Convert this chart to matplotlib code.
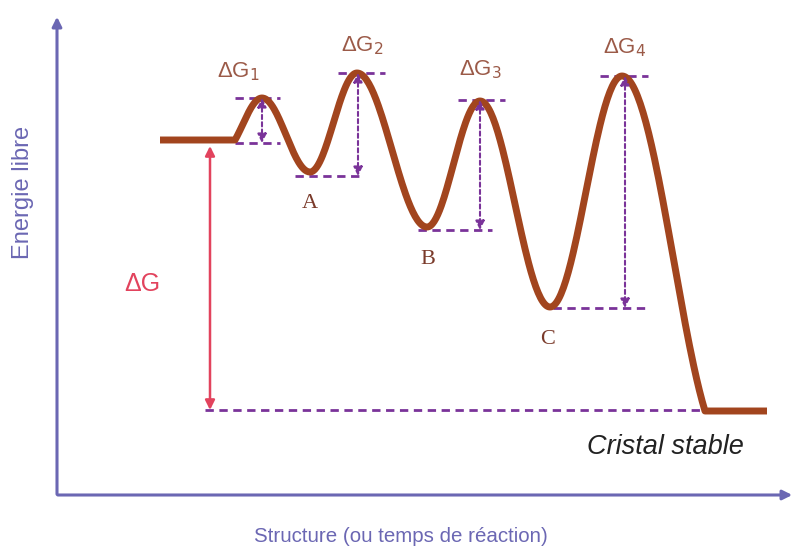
import numpy as np
import matplotlib.pyplot as plt

plt.rcParams['font.family'] = ['Liberation Sans', 'DejaVu Sans']

# energy profile: extrema of the curve (x position, energy level in image units, down = lower)
curve_x = [160, 235, 262, 310, 357, 427, 480, 550, 622, 705, 767]
curve_y = [140, 140, 98, 172, 73, 227, 101, 307, 76, 411, 411]
# how much of a half-cosine each segment uses (1 = full smooth arch)
seg_shape = [0, 0.7, 1, 1, 1, 1, 1, 1, 0.8, 0]

# barriers: x of arrow, top level, bottom level, left/right of dashes
barrier_names = ['ΔG$_1$', 'ΔG$_2$', 'ΔG$_3$', 'ΔG$_4$']
barrier_x = [262, 358, 480, 625]
barrier_top = [98, 73, 100, 76]
barrier_bot = [143, 176, 230, 308]
top_span = [(235, 280), (338, 385), (458, 505), (600, 648)]
bot_span = [(235, 280), (295, 364), (418, 492), (553, 648)]
label_pos = [(238, 72), (362, 46), (480, 70), (625, 48)]

state_names = ['A', 'B', 'C']
state_pos = [(310, 204), (428, 260), (548, 339)]

dg_x = 210
dg_top = 146
dg_bot = 410

axis_col = '#6b67b3'
curve_col = '#a2451e'
dash_col = '#7a3399'
red = '#e2435d'
label_col = '#9b5a48'

fig = plt.figure(figsize=(7.95, 5.51), dpi=100)
ax = fig.add_axes([0, 0, 1, 1])
ax.set_xlim(0, 795)
ax.set_ylim(551, 0)
ax.axis('off')

# curve built segment by segment between extrema
xs, ys = [], []
for i in range(len(curve_x) - 1):
    x0, x1 = curve_x[i], curve_x[i + 1]
    y0, y1 = curve_y[i], curve_y[i + 1]
    t = np.linspace(0, 1, 60)
    f = seg_shape[i]
    if f == 0:
        w = t
    elif i == 1:
        # starts abruptly from the plateau
        a = np.pi * (1 - f)
        w = (np.cos(a) - np.cos(a + np.pi * f * t)) / (np.cos(a) - np.cos(np.pi))
    else:
        w = (1 - np.cos(np.pi * f * t)) / (1 - np.cos(np.pi * f))
    xs.extend(x0 + (x1 - x0) * t)
    ys.extend(y0 + (y1 - y0) * w)
ax.plot(xs, ys, color=curve_col, lw=5, solid_capstyle='butt', zorder=3)

# axes arrows
ax.annotate('', xy=(57, 14), xytext=(57, 497),
            arrowprops=dict(arrowstyle='-|>', color=axis_col, lw=2.2, mutation_scale=14))
ax.annotate('', xy=(795, 495), xytext=(55, 495),
            arrowprops=dict(arrowstyle='-|>', color=axis_col, lw=2.2, mutation_scale=14))
ax.text(23, 192, 'Energie libre', rotation=90, ha='center', va='center',
        color=axis_col, fontsize=17)
ax.text(401, 536, 'Structure (ou temps de réaction)', ha='center', va='center',
        color=axis_col, fontsize=14.8)

# barrier heights
for i in range(len(barrier_x)):
    ax.plot(top_span[i], [barrier_top[i]] * 2, color=dash_col, lw=2, ls=(0, (3, 2)), zorder=2)
    ax.plot(bot_span[i], [barrier_bot[i]] * 2, color=dash_col, lw=2, ls=(0, (3, 2)), zorder=2)
    ax.annotate('', xy=(barrier_x[i], barrier_bot[i]), xytext=(barrier_x[i], barrier_top[i]),
                arrowprops=dict(arrowstyle='<|-|>', color=dash_col, lw=1.5,
                                ls=(0, (2, 1.5)), mutation_scale=13, shrinkA=0, shrinkB=0),
                zorder=4)
    ax.text(label_pos[i][0], label_pos[i][1], barrier_names[i], ha='center', va='center',
            color=label_col, fontsize=16)

for name, (px, py) in zip(state_names, state_pos):
    ax.text(px, py, name, ha='center', va='center', color='#7a3a2a', fontsize=16,
            family='Liberation Serif')

# overall free energy difference
ax.plot([dg_x - 5, 705], [dg_bot, dg_bot], color=dash_col, lw=2, ls=(0, (3, 2)), zorder=2)
ax.annotate('', xy=(dg_x, dg_top), xytext=(dg_x, dg_bot),
            arrowprops=dict(arrowstyle='<|-|>', color=red, lw=1.8, mutation_scale=14,
                            shrinkA=0, shrinkB=0))
ax.text(142, 284, 'ΔG', ha='center', va='center', color=red, fontsize=18)

ax.text(665, 447, 'Cristal stable', ha='center', va='center', color='#222222',
        fontsize=19.5, style='italic')

fig.savefig('out.png', dpi=100)
